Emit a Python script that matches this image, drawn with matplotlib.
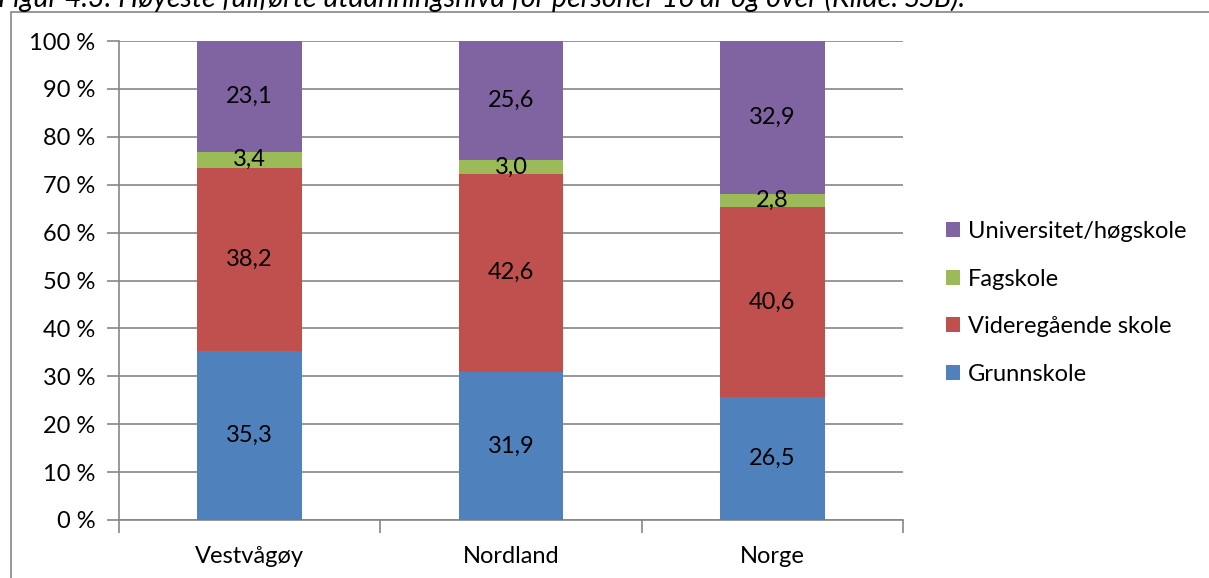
import numpy as np
import matplotlib.pyplot as plt
from matplotlib.patches import Rectangle

# data (Kilde: SSB)
places = ["Vestvågøy", "Nordland", "Norge"]
levels = ["Grunnskole", "Videregående skole", "Fagskole", "Universitet/høgskole"]
grunnskole = [35.3, 31.9, 26.5]
videregaende = [38.2, 42.6, 40.6]
fagskole = [3.4, 3.0, 2.8]
universitet = [23.1, 25.6, 32.9]
colors = ["#4F81BD", "#C0504D", "#9BBB59", "#8064A2"]

plt.rcParams['font.family'] = ['Lato', 'DejaVu Sans']
W, H = 1209, 578
FS = 17
fig = plt.figure(figsize=(W / 100, H / 100), dpi=100)

# axes in pixel coords: left 119, right 903, top 41, bottom 520
ax = fig.add_axes([119 / W, 1 - 520 / H, (903 - 119) / W, (520 - 41) / H])

series = np.array([grunnskole, videregaende, fagskole, universitet])
pct = series / series.sum(axis=0) * 100
x = np.arange(len(places))
bottom = np.zeros(len(places))
handles = []
for i, lvl in enumerate(levels):
    b = ax.bar(x, pct[i], 0.4, bottom=bottom, color=colors[i], label=lvl, zorder=3)
    handles.append(b)
    for xi, raw, h, b0 in zip(x, series[i], pct[i], bottom):
        ax.text(xi, b0 + h / 2, f"{raw:.1f}".replace(".", ","), ha="center",
                va="center", fontsize=FS, color="black", zorder=4)
    bottom += pct[i]

grey = "#868686"
ax.set_xlim(-0.5, 2.5)
ax.set_ylim(0, 100)
ax.set_yticks(np.arange(0, 101, 10))
ax.set_yticklabels([f"{v} %" for v in range(0, 101, 10)], fontsize=FS)
ax.yaxis.grid(True, color=grey, linewidth=1.2, zorder=0)
ax.set_xticks(x)
ax.set_xticklabels(places, fontsize=FS)
ax.tick_params(axis="x", length=0, pad=19)
ax.set_xticks([-0.5, 0.5, 1.5, 2.5], minor=True)
ax.tick_params(axis="x", which="minor", length=9, color=grey, width=1.2)
ax.tick_params(axis="y", length=9, color=grey, width=1.2, pad=8)
for s in ["top", "right"]:
    ax.spines[s].set_visible(False)
for s in ["left", "bottom"]:
    ax.spines[s].set_color(grey)
    ax.spines[s].set_linewidth(1.2)

leg = fig.legend(handles[::-1], levels[::-1], loc="upper left",
                 bbox_to_anchor=(925 / W, 1 - 200 / H), frameon=False,
                 fontsize=FS, handlelength=0.6, handleheight=0.6,
                 handletextpad=0.3, labelspacing=1.12)

# outer chart frame
fig.patches.append(Rectangle((11 / W, -0.1), 1.2, 1 - 12 / H + 0.1,
                             transform=fig.transFigure, fill=False,
                             edgecolor=grey, linewidth=1.2))

fig.text(-2 / W, 1 - 7 / H,
         "Figur 4.3: Høyeste fullførte utdanningsnivå for personer 16 år og over (Kilde: SSB).",
         fontsize=20.5, style="italic", va="baseline", ha="left")

fig.savefig("out.png", dpi=100)
